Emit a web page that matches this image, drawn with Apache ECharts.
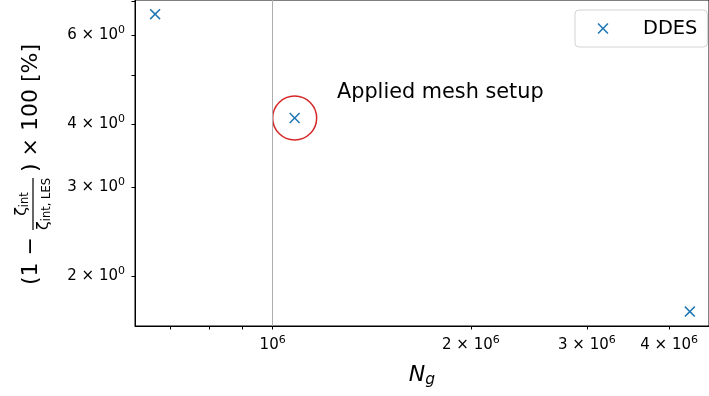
<!DOCTYPE html>
<html>
<head>
<meta charset="utf-8">
<script src="https://cdn.jsdelivr.net/npm/echarts@6/dist/echarts.min.js"></script>
<style>html,body{margin:0;padding:0;background:#fff}#chart{width:709px;height:396px}</style>
</head>
<body>
<div id="chart"></div>
<script>
// mesh study data
var meshSizes = [6.63e5, 1.08e6, 4.30e6];
var errorPct = [6.60, 4.11, 1.70];
var appliedMesh = [1.08e6, 4.11];
var annotationPos = [1.25e6, 4.61];
var annotationText = 'Applied mesh setup';
var vlineAt = 1e6;

var xTickValues = [7e5, 8e5, 9e5, 1e6, 2e6, 3e6, 4e6];
var xLabelValues = [1e6, 2e6, 3e6, 4e6];
var yTickValues = [2, 3, 4, 5, 6, 7];
var yLabelValues = [2, 3, 4, 6];
var xRange = [6.18e5, 4.598e6];
var yRange = [1.592, 7.04];

var FONT = 'DejaVu Sans';
var xMarker = 'path://M2,0L10,8L18,0L20,2L12,10L20,18L18,20L10,12L2,20L0,18L8,10L0,2Z';

function sciLabel(v) {
  var e = Math.floor(Math.log10(v) + 1e-9);
  var m = Math.round(v / Math.pow(10, e));
  if (m === 1) return '{b|10}{s|' + e + '}';
  return '{b|' + m + ' × 10}{s|' + e + '}';
}
var labelRich = {
  b: {fontSize: 15, fontFamily: FONT, color: '#000'},
  s: {fontSize: 11, fontFamily: FONT, color: '#000', verticalAlign: 'top', padding: [0, 0, 9, 0]}
};

var myChart = echarts.init(document.getElementById('chart'));
var option = {
  animation: false,
  grid: {
    left: 135, top: 0, right: -2, bottom: 70,
    show: true, borderColor: '#000', borderWidth: 1
  },
  legend: {
    data: ['DDES'],
    left: 575, top: 10,
    padding: [9, 10, 9, 22.5],
    itemWidth: 70, itemHeight: 11,
    borderColor: '#d3d3d3', borderWidth: 1, borderRadius: 4,
    textStyle: {fontFamily: FONT, fontSize: 19.4, color: '#000'}
  },
  xAxis: {
    type: 'log', logBase: 10,
    min: xRange[0], max: xRange[1],
    name: '{n|N}{g|g}',
    nameLocation: 'middle', nameGap: 36,
    nameTextStyle: {
      rich: {
        n: {fontSize: 22, fontFamily: FONT, fontStyle: 'italic', color: '#000'},
        g: {fontSize: 15.5, fontFamily: FONT, fontStyle: 'italic', color: '#000', verticalAlign: 'bottom', padding: [10, 0, 0, 0]}
      }
    },
    axisLine: {show: true, onZero: false, lineStyle: {color: '#000', width: 1}},
    axisTick: {show: true, customValues: xTickValues, length: 3.5, lineStyle: {color: '#000'}},
    axisLabel: {customValues: xLabelValues, margin: 9, formatter: sciLabel, rich: labelRich},
    splitLine: {show: false},
    minorTick: {show: false}
  },
  yAxis: {
    type: 'log', logBase: 10,
    min: yRange[0], max: yRange[1],
    axisLine: {show: true, onZero: false, lineStyle: {color: '#000', width: 1}},
    axisTick: {show: true, customValues: yTickValues, length: 3.5, lineStyle: {color: '#000'}},
    axisLabel: {customValues: yLabelValues, margin: 10, formatter: sciLabel, rich: labelRich},
    splitLine: {show: false}
  },
  series: [{
    name: 'DDES',
    type: 'scatter',
    symbol: xMarker,
    symbolSize: 11,
    itemStyle: {color: '#1f77b4', opacity: 1},
    data: meshSizes.map(function (x, i) { return [x, errorPct[i]]; }),
    markLine: {
      silent: true, symbol: 'none',
      label: {show: false},
      lineStyle: {color: '#adadad', width: 1, type: 'solid'},
      data: [{xAxis: vlineAt}]
    }
  }, {
    name: 'applied',
    type: 'scatter',
    symbol: 'circle',
    symbolSize: 44,
    itemStyle: {color: 'rgba(0,0,0,0)', borderColor: '#d62728', borderWidth: 1.5, opacity: 1},
    data: [appliedMesh],
    z: 1
  }, {
    name: 'note',
    type: 'scatter',
    symbolSize: 1,
    itemStyle: {color: 'rgba(0,0,0,0)', opacity: 1},
    label: {
      show: true, position: 'right', distance: 0,
      formatter: annotationText,
      fontFamily: FONT, fontSize: 20.8, color: '#000'
    },
    data: [annotationPos]
  }],
  graphic: [{
    type: 'group',
    x: 31, y: 285, rotation: Math.PI / 2,
    children: [
      {type: 'text', x: 0, y: 0, style: {text: '(1 −', font: '22px "DejaVu Sans"', fill: '#000', align: 'left', verticalAlign: 'middle'}},
      {type: 'line', shape: {x1: 55, y1: 2, x2: 107, y2: 2}, style: {stroke: '#000', lineWidth: 1.2}},
      {type: 'text', x: 81, y: 0, style: {
        text: '{z|ζ}{s|int}', align: 'center', verticalAlign: 'bottom',
        rich: {z: {fontSize: 16, fontFamily: FONT, fill: '#000'}, s: {fontSize: 11.5, fontFamily: FONT, fill: '#000', verticalAlign: 'bottom', padding: [6, 0, 0, 0]}}
      }},
      {type: 'text', x: 81, y: 4, style: {
        text: '{z|ζ}{s|int, LES}', align: 'center', verticalAlign: 'top',
        rich: {z: {fontSize: 16, fontFamily: FONT, fill: '#000'}, s: {fontSize: 11.5, fontFamily: FONT, fill: '#000', verticalAlign: 'bottom', padding: [6, 0, 0, 0]}}
      }},
      {type: 'text', x: 113, y: 0, style: {text: ') × 100 [%]', font: '22px "DejaVu Sans"', fill: '#000', align: 'left', verticalAlign: 'middle'}}
    ]
  }]
};
myChart.setOption(option);
</script>
</body>
</html>
